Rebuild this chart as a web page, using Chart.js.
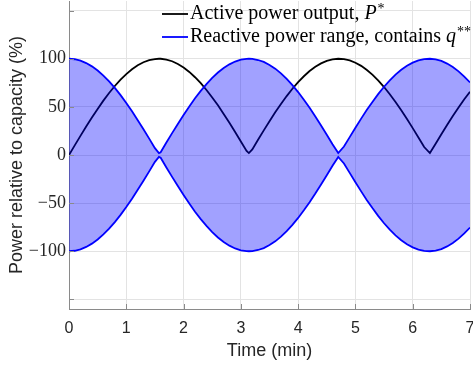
<!DOCTYPE html>
<html>
<head>
<meta charset="utf-8">
<script src="https://cdn.jsdelivr.net/npm/chart.js@4/dist/chart.umd.min.js"></script>
<style>
  html, body { margin: 0; padding: 0; background: #fff; }
  #wrap { position: relative; width: 473px; height: 366px; }
</style>
</head>
<body>
<div id="wrap"><canvas id="chart"></canvas></div>
<script>
// time (min)
const time = [0, 0.1, 0.2, 0.3, 0.4, 0.5, 0.6, 0.7, 0.8, 0.9, 1.0, 1.1, 1.2, 1.3, 1.4, 1.5, 1.57, 1.6, 1.7, 1.8, 1.9,
  2.0, 2.1, 2.2, 2.3, 2.4, 2.5, 2.6, 2.7, 2.8, 2.9, 3.0, 3.1, 3.14, 3.2, 3.3, 3.4, 3.5, 3.6, 3.7, 3.8, 3.9,
  4.0, 4.1, 4.2, 4.3, 4.4, 4.5, 4.6, 4.7, 4.8, 4.9, 5.0, 5.1, 5.2, 5.3, 5.4, 5.5, 5.6, 5.7, 5.8, 5.9,
  6.0, 6.1, 6.2, 6.3, 6.4, 6.5, 6.6, 6.7, 6.8, 6.9, 7.0];

// active power output P* (%)
const activePower = [0, 10, 19.9, 29.6, 38.9, 47.9, 56.5, 64.4, 71.7, 78.3, 84.1, 89.1, 93.2, 96.4, 98.5, 99.7, 100, 100, 99.2, 97.4, 94.6,
  90.9, 86.3, 80.8, 74.6, 67.5, 59.8, 51.6, 42.7, 33.5, 23.9, 14.1, 4.2, 2, 5.8, 15.8, 25.6, 35.1, 44.3, 53, 61.2, 68.8,
  75.7, 81.8, 87.2, 91.6, 95.2, 97.8, 99.4, 100, 99.6, 98.2, 95.9, 92.6, 88.3, 83.2, 77.3, 70.6, 63.1, 55, 46.5, 37.4,
  27.9, 18.2, 8.3, 2, 11.7, 21.5, 31.1, 40.5, 49.4, 57.9, 65.7];

// reactive power range, upper and lower bound (%)
const reactiveUpper = [100, 99.5, 98, 95.5, 92.1, 87.8, 82.5, 76.5, 69.7, 62.2, 54, 45.4, 36.2, 26.7, 17, 7.1, 2, 2.9, 12.9, 22.7, 32.3,
  41.6, 50.5, 58.9, 66.6, 73.7, 80.1, 85.7, 90.4, 94.2, 97.1, 99, 99.9, 100, 99.8, 98.7, 96.7, 93.6, 89.7, 84.8, 79.1, 72.6,
  65.4, 57.4, 49, 40.1, 30.7, 21.1, 11.2, 2, 8.8, 18.6, 28.4, 37.8, 46.9, 55.4, 63.5, 70.9, 77.6, 83.5, 88.5, 92.7,
  96, 98.3, 99.7, 100, 99.3, 97.7, 95, 91.4, 86.9, 81.5, 75.4];
const reactiveLower = [-100, -99.5, -98, -95.5, -92.1, -87.8, -82.5, -76.5, -69.7, -62.2, -54, -45.4, -36.2, -26.7, -17, -7.1, -2, -2.9, -12.9, -22.7, -32.3,
  -41.6, -50.5, -58.9, -66.6, -73.7, -80.1, -85.7, -90.4, -94.2, -97.1, -99, -99.9, -100, -99.8, -98.7, -96.7, -93.6, -89.7, -84.8, -79.1, -72.6,
  -65.4, -57.4, -49, -40.1, -30.7, -21.1, -11.2, -2, -8.8, -18.6, -28.4, -37.8, -46.9, -55.4, -63.5, -70.9, -77.6, -83.5, -88.5, -92.7,
  -96, -98.3, -99.7, -100, -99.3, -97.7, -95, -91.4, -86.9, -81.5, -75.4];

const xTicks = [0, 1, 2, 3, 4, 5, 6, 7];
const yTicks = [-150, -100, -50, 0, 50, 100, 150];
const yLabels = ["", "\u2212100", "\u221250", "0", "50", "100", ""];

const toPoints = (ys) => ys.map((y, i) => ({ x: time[i], y: y }));

const axisColor = "#8a8a8a";
const gridColor = "#e3e3e3";

// fixed axis boxes, no extra label padding
const fixBox = (size) => (scale) => {
  if (scale.isHorizontal()) scale.height = size; else scale.width = size;
  scale.paddingLeft = scale.paddingRight = scale.paddingTop = scale.paddingBottom = 0;
};

// inward tick marks like the original figure
const innerTicks = {
  id: "innerTicks",
  afterDraw(chart) {
    const { ctx, chartArea, scales } = chart;
    ctx.save();
    ctx.strokeStyle = axisColor;
    ctx.lineWidth = 1;
    ctx.beginPath();
    xTicks.forEach(v => {
      const px = Math.round(scales.x.getPixelForValue(v)) + 0.5;
      ctx.moveTo(px, chartArea.bottom);
      ctx.lineTo(px, chartArea.bottom - 5);
    });
    yTicks.forEach(v => {
      const py = Math.round(scales.y.getPixelForValue(v)) + 0.5;
      ctx.moveTo(chartArea.left, py);
      ctx.lineTo(chartArea.left + 5, py);
    });
    ctx.stroke();
    ctx.restore();
  }
};

// legend with italic symbols and superscripts
const mathLegend = {
  id: "mathLegend",
  afterDatasetsDraw(chart) {
    const ctx = chart.ctx;
    const items = [
      { color: "#000000", text: "Active power output, ", sym: "P", sup: "*", y: 14 },
      { color: "#0000ff", text: "Reactive power range, contains ", sym: "q", sup: "**", y: 37 }
    ];
    ctx.save();
    items.forEach(it => {
      ctx.strokeStyle = it.color;
      ctx.lineWidth = 1.8;
      ctx.beginPath();
      ctx.moveTo(162, it.y);
      ctx.lineTo(188, it.y);
      ctx.stroke();
      ctx.fillStyle = "#000";
      ctx.textBaseline = "middle";
      ctx.font = "20px 'Liberation Serif'";
      let x = 190;
      ctx.fillText(it.text, x, it.y);
      x += ctx.measureText(it.text).width;
      ctx.font = "italic 20px 'Liberation Serif'";
      ctx.fillText(it.sym, x, it.y);
      x += ctx.measureText(it.sym).width + 1;
      ctx.font = "14px 'Liberation Serif'";
      ctx.fillText(it.sup, x, it.y - 5);
    });
    ctx.restore();
  }
};

new Chart(document.getElementById("chart"), {
  type: "line",
  data: {
    datasets: [
      {
        label: "Reactive power range (upper)",
        data: toPoints(reactiveUpper),
        borderColor: "#0000ff",
        backgroundColor: "rgba(0, 0, 255, 0.37)",
        borderWidth: 1.8,
        pointRadius: 0,
        tension: 0,
        fill: "+1"
      },
      {
        label: "Reactive power range (lower)",
        data: toPoints(reactiveLower),
        borderColor: "#0000ff",
        borderWidth: 1.8,
        pointRadius: 0,
        tension: 0,
        fill: false
      },
      {
        label: "Active power output",
        data: toPoints(activePower),
        borderColor: "#000000",
        borderWidth: 1.8,
        pointRadius: 0,
        tension: 0,
        fill: false
      }
    ]
  },
  options: {
    responsive: true,
    maintainAspectRatio: false,
    animation: false,
    layout: { autoPadding: false, padding: { top: 1, right: 3, bottom: 0, left: 0 } },
    plugins: {
      legend: { display: false },
      tooltip: { enabled: false }
    },
    scales: {
      x: {
        type: "linear",
        min: 0,
        max: 7,
        afterBuildTicks: (scale) => { scale.ticks = xTicks.map(v => ({ value: v })); },
        afterFit: fixBox(57),
        grid: { color: gridColor, drawTicks: false },
        border: { color: axisColor, width: 1 },
        ticks: {
          padding: 10,
          color: "#262626",
          font: { family: "'Liberation Sans', Arial, sans-serif", size: 16 }
        },
        title: {
          display: true,
          text: "Time (min)",
          color: "#262626",
          font: { family: "'Liberation Sans', Arial, sans-serif", size: 18 },
          padding: { top: 0, bottom: 4 }
        }
      },
      y: {
        min: -160,
        max: 160,
        afterBuildTicks: (scale) => { scale.ticks = yTicks.map(v => ({ value: v })); },
        afterFit: fixBox(69),
        grid: { color: gridColor, drawTicks: false },
        border: { color: axisColor, width: 1 },
        ticks: {
          padding: 3,
          color: "#262626",
          font: { family: "'Liberation Serif', serif", size: 18 },
          callback: (v) => yLabels[yTicks.indexOf(v)]
        },
        title: {
          display: true,
          text: "Power relative to capacity (%)",
          color: "#262626",
          font: { family: "'Liberation Sans', Arial, sans-serif", size: 18 },
          padding: { top: 6, bottom: 0 }
        }
      }
    }
  },
  plugins: [innerTicks, mathLegend]
});
</script>
</body>
</html>
